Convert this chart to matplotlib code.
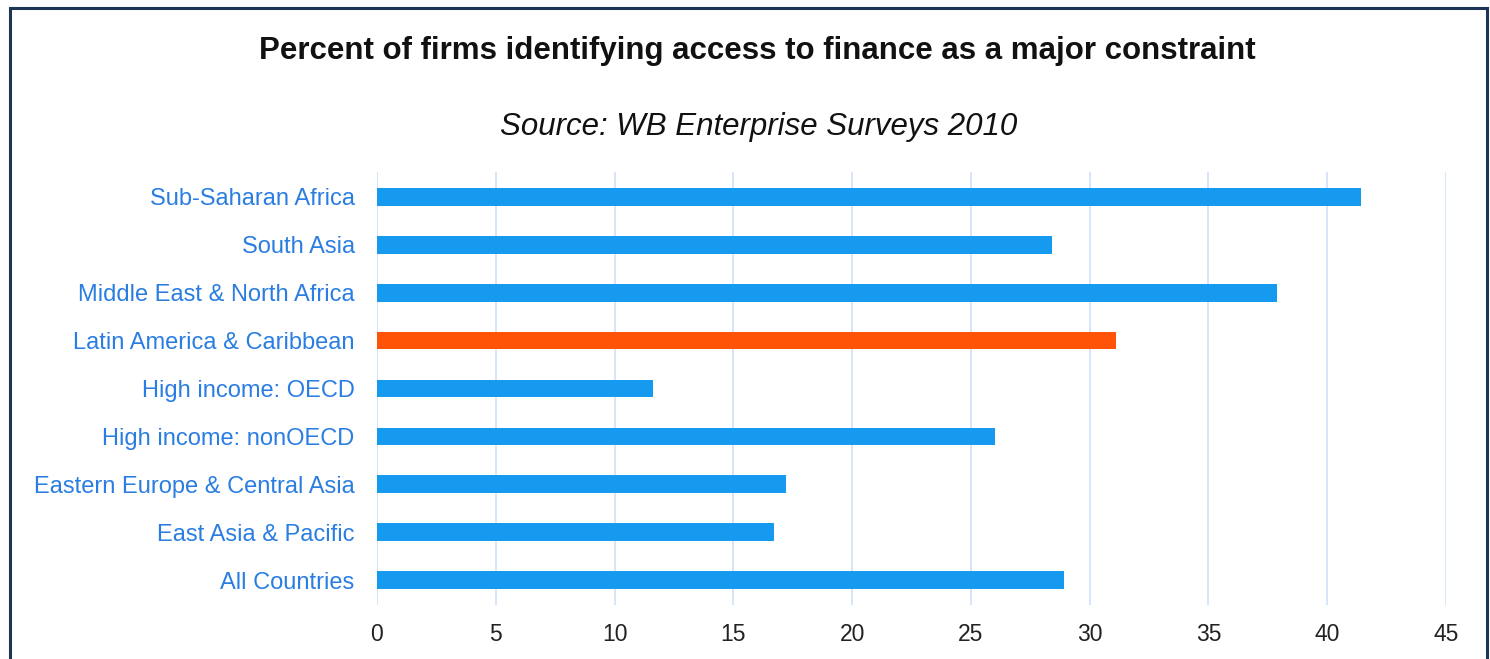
import matplotlib.pyplot as plt
from matplotlib.patches import Rectangle

plt.rcParams['font.family'] = ['Liberation Sans', 'DejaVu Sans']

regions = ["Sub-Saharan Africa", "South Asia", "Middle East & North Africa",
           "Latin America & Caribbean", "High income: OECD", "High income: nonOECD",
           "Eastern Europe & Central Asia", "East Asia & Pacific", "All Countries"]
pct_firms = [41.4, 28.4, 37.9, 31.1, 11.6, 26.0, 17.2, 16.7, 28.9]
highlight = "Latin America & Caribbean"
xticks = [0, 5, 10, 15, 20, 25, 30, 35, 40, 45]

blue = "#159aef"
orange = "#ff5408"
label_blue = "#2a7de1"

fig = plt.figure(figsize=(14.9, 6.59), dpi=100)
ax = fig.add_axes([0.253, 0.082, 0.7175, 0.657])

colors = [orange if r == highlight else blue for r in regions]
ypos = list(range(len(regions)))
ax.barh(ypos, pct_firms, height=0.37, color=colors, zorder=3)

ax.set_ylim(len(regions) - 0.48, -0.52)
ax.set_xlim(0, 45)
ax.set_xticks(xticks)
ax.set_yticks(ypos)
ax.set_yticklabels(regions, color=label_blue, fontsize=17)
ax.tick_params(axis='y', length=0, pad=16)
ax.tick_params(axis='x', length=0, pad=13, labelsize=16.5, labelcolor="#222222")
ax.grid(axis='x', color="#cfe0f7", linewidth=1.2, zorder=0)
for s in ax.spines.values():
    s.set_visible(False)

fig.text(0.508, 0.923, "Percent of firms identifying access to finance as a major constraint",
         ha='center', va='center', fontsize=22.5, fontweight='bold', color="#111111")
fig.text(0.509, 0.807, "Source: WB Enterprise Surveys 2010",
         ha='center', va='center', fontsize=22.5, fontstyle='italic', color="#111111")

# dark outline around the whole chart panel
fig.patches.append(Rectangle((0.007, -0.05), 0.991, 1.038, transform=fig.transFigure,
                             fill=False, edgecolor="#1d3557", linewidth=2.2))

fig.savefig("out.png", dpi=100)
